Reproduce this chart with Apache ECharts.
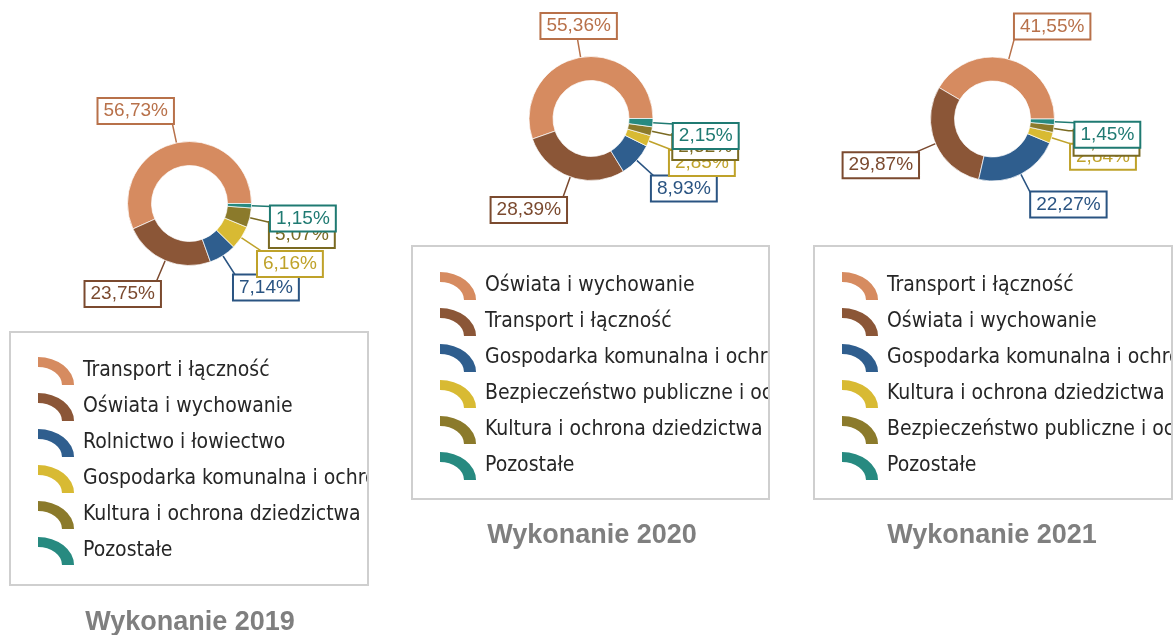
<!DOCTYPE html>
<html>
<head>
<meta charset="utf-8">
<script src="https://cdn.jsdelivr.net/npm/echarts@6/dist/echarts.min.js"></script>
<style>
  html, body { margin: 0; padding: 0; background: #ffffff; }
  #page { position: relative; width: 1176px; height: 635px; overflow: hidden; background: #ffffff; }
  .panel { position: absolute; top: 0; height: 635px; overflow: hidden; }
</style>
</head>
<body>
<div id="page">
  <div class="panel" id="p2019" style="left:0px;width:369px"></div>
  <div class="panel" id="p2020" style="left:369px;width:401px"></div>
  <div class="panel" id="p2021" style="left:771px;width:402px"></div>
</div>
<script>
// Budget expenditure structure by section, three years
const cats2019 = ['Transport i łączność', 'Oświata i wychowanie', 'Rolnictwo i łowiectwo',
  'Gospodarka komunalna i ochrona środowiska', 'Kultura i ochrona dziedzictwa narodowego', 'Pozostałe'];
const vals2019 = [56.73, 23.75, 7.14, 6.16, 5.07, 1.15];

const cats2020 = ['Oświata i wychowanie', 'Transport i łączność', 'Gospodarka komunalna i ochrona środowiska',
  'Bezpieczeństwo publiczne i ochrona przeciwpożarowa', 'Kultura i ochrona dziedzictwa narodowego', 'Pozostałe'];
const vals2020 = [55.36, 28.39, 8.93, 2.85, 2.32, 2.15];

const cats2021 = ['Transport i łączność', 'Oświata i wychowanie', 'Gospodarka komunalna i ochrona środowiska',
  'Kultura i ochrona dziedzictwa narodowego', 'Bezpieczeństwo publiczne i ochrona przeciwpożarowa', 'Pozostałe'];
const vals2021 = [41.55, 29.87, 22.27, 2.84, 2.02, 1.45];

const titles = ['Wykonanie 2019', 'Wykonanie 2020', 'Wykonanie 2021'];

// Colours by rank within each ring
const sliceColors = ['#D68B60', '#8B5637', '#2F5E8E', '#D8BA33', '#8B7A2B', '#278A80'];
const labelColors = ['#B8714A', '#7B4A2F', '#2A5482', '#BFA22A', '#7A6A22', '#1F7A72'];

// Label leader settings per slice: [length, length2, distanceToLabelLine, alignTop]
const guides2019 = [[32.6, 1, -4.3], [36.3, 1, -9.9], [37.7, 1, -10.2], [47.7, 1, -24], [75.7, 1, -54.6], [19.5, 1, -1, true]];
const guides2020 = [[31.8, 1, -41.6], [35.1, 1, -8.6], [41.8, 1, -16.7], [61.1, 1, -36.8], [18, 4, 0, true], [21, 1, -1, true]];
const guides2021 = [[33.9, 1, -3.7], [54.4, 1, -33.4], [34, 1, -6.2], [63.2, 1, -41.8], [15, 6, 0, true], [21, 1, -1, true]];

const ringIcon = 'path://M0,0 A36,28 0 0 1 36,28 L24,28 A24,18 0 0 0 0,10 Z';
const labelFont = '"Liberation Sans", Arial, sans-serif';
const legendFont = '"DejaVu Sans Condensed", "DejaVu Sans", sans-serif';

const pct = v => v.toFixed(2).replace('.', ',') + '%';

function ring(cats, vals, center, guides) {
  return {
    type: 'pie',
    center: center,
    radius: [38, 62],
    startAngle: 0,
    clockwise: false,
    avoidLabelOverlap: false,
    animation: false,
    emphasis: { disabled: true },
    itemStyle: { borderColor: 'rgba(255,255,255,0.7)', borderWidth: 1 },
    label: {
      show: true,
      position: 'outside',
      formatter: p => pct(p.value),
      fontFamily: labelFont,
      fontSize: 19,
      backgroundColor: '#ffffff',
      borderWidth: 2,
      padding: [2.5, 5]
    },
    labelLine: { show: true, lineStyle: { width: 1.5 } },
    labelLayout: p => (guides[p.dataIndex][3] ? { verticalAlign: 'top' } : {}),
    data: vals.map((v, i) => ({
      name: cats[i],
      value: v,
      itemStyle: { color: sliceColors[i] },
      label: { color: labelColors[i], borderColor: labelColors[i], distanceToLabelLine: guides[i][2] },
      labelLine: { length: guides[i][0], length2: guides[i][1], lineStyle: { color: labelColors[i] } }
    }))
  };
}

function legendFor(cats, left, top) {
  return {
    orient: 'vertical',
    left: left,
    top: top,
    itemWidth: 36,
    itemHeight: 28,
    itemGap: 8,
    icon: ringIcon,
    selectedMode: false,
    itemStyle: { borderWidth: 0 },
    textStyle: { fontFamily: legendFont, fontSize: 21, color: '#262626', padding: [0, 0, 0, 4] },
    data: cats.map((n, i) => ({ name: n, itemStyle: { color: sliceColors[i] } }))
  };
}

// One panel per year; the panel edge clips legend text at the frame
function panel(el, offset, cats, vals, guides, title, layout) {
  const chart = echarts.init(document.getElementById(el), null, { renderer: 'canvas' });
  chart.setOption({
    backgroundColor: '#ffffff',
    animation: false,
    legend: legendFor(cats, layout.legendLeft - offset, layout.legendTop),
    graphic: [
      { type: 'rect', z: 100, silent: true,
        shape: { x: layout.frame[0] - offset, y: layout.frame[1], width: layout.frame[2], height: layout.frame[3] },
        style: { fill: 'none', stroke: '#CFCFCF', lineWidth: 2 } },
      { type: 'text', silent: true, x: layout.titleX - offset, y: layout.titleY,
        style: { text: title, fill: '#7F7F7F', font: 'bold 27px "Liberation Sans", Arial, sans-serif',
          align: 'center', verticalAlign: 'middle' } }
    ],
    series: [ring(cats, vals, [layout.center[0] - offset, layout.center[1]], guides)]
  });
}

panel('p2019', 0, cats2019, vals2019, guides2019, titles[0],
  { center: [189.5, 203.5], legendLeft: 33, legendTop: 352, frame: [10, 332, 358, 253], titleX: 190, titleY: 623 });
panel('p2020', 369, cats2020, vals2020, guides2020, titles[1],
  { center: [591, 118.5], legendLeft: 435, legendTop: 267, frame: [412, 246, 357, 253], titleX: 592, titleY: 536 });
panel('p2021', 771, cats2021, vals2021, guides2021, titles[2],
  { center: [992.5, 119], legendLeft: 837, legendTop: 267, frame: [814, 246, 358, 253], titleX: 992, titleY: 536 });
</script>
</body>
</html>
